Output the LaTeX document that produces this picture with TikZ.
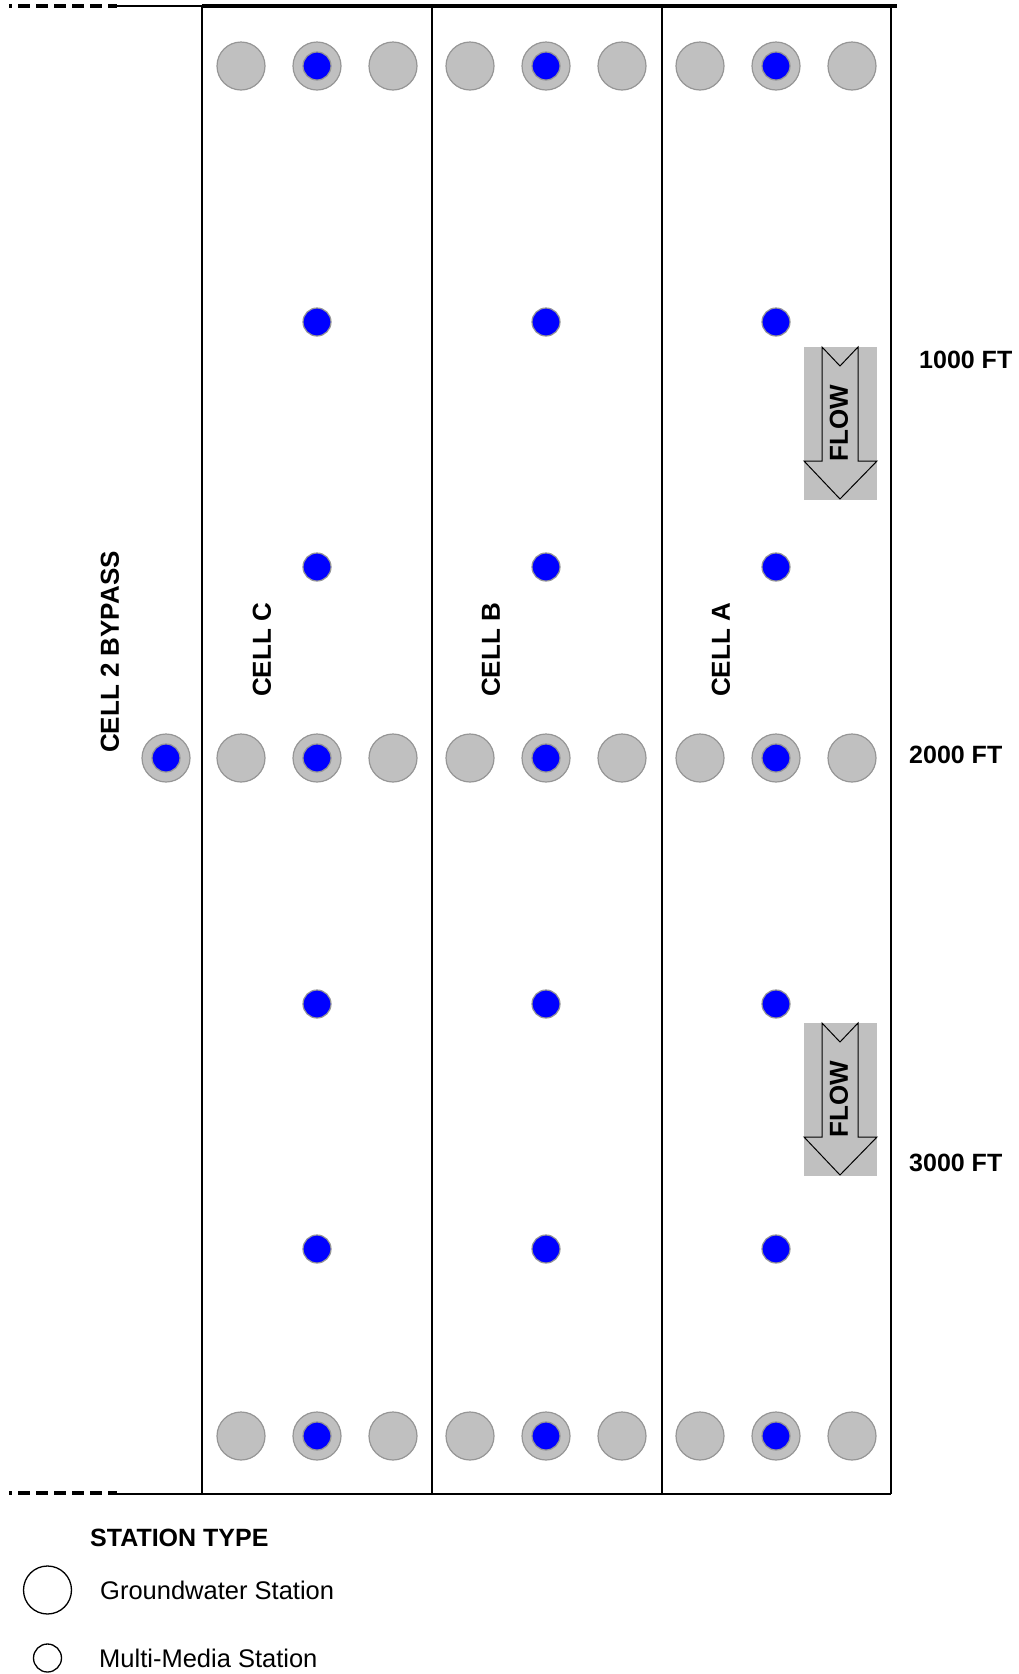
\documentclass[tikz,border=0pt]{standalone}
\usepackage{fontspec}
\setmainfont{Liberation Sans}
\usepackage{xcolor}
\usepackage{tikz}
\usetikzlibrary{positioning,calc}
\definecolor{gwgray}{HTML}{C0C0C0}
\definecolor{gwline}{HTML}{969696}
\definecolor{mmblue}{HTML}{0000FF}
\begin{document}
\begin{tikzpicture}[x=1pt, y=-1pt,
    gw/.style={circle, draw=gwline, fill=gwgray, line width=1.2pt, minimum size=48pt, inner sep=0pt},
    mm/.style={circle, draw=gwline, fill=mmblue, line width=1.2pt, minimum size=28pt, inner sep=0pt},
    legendgw/.style={circle, draw=black, line width=1.3pt, minimum size=48pt, inner sep=0pt},
    legendmm/.style={circle, draw=black, line width=1.3pt, minimum size=28pt, inner sep=0pt},
    celltext/.style={font=\fontsize{26}{30}\selectfont\bfseries, inner sep=0pt, rotate=90},
    fttext/.style={font=\fontsize{25}{30}\selectfont\bfseries, inner sep=0pt, anchor=west},
    legendtext/.style={font=\fontsize{25.5}{30}\selectfont, inner sep=0pt, anchor=west},
    flowbox/.style={fill=gwgray},
    flowarrow/.style={fill=gwgray, draw=black, line width=1pt, line join=miter},
    dashend/.style={line width=4pt, dash pattern=on 12pt off 6pt, dash phase=9pt}]

    \useasboundingbox (0,0) rectangle (1019,1674);

    \coordinate (tl) at (202,6);
    \coordinate (tr) at (891,6);
    \coordinate (bl) at (202,1494);
    \coordinate (br) at (891,1494);

    \draw[dashend] (9,6) -- (117,6);
    \draw[line width=2pt] (117,6) -- (tl);
    \draw[line width=4pt] (tl) -- (897,6);
    \draw[dashend] (9,1493) -- (117,1493);
    \draw[line width=2.6pt] (117,1494) -- (br);
    \draw[line width=2.6pt] (tr) -- (br);
    \foreach \lx in {202,432,662}
        \draw[line width=2.6pt] (\lx,6) -- (\lx,1494);

    \foreach \cell/\cx in {C/317,B/546,A/776} {
        \foreach \row/\ry in {top/66,mid/758,bot/1436} {
            \node[gw] (gwL-\cell-\row) at (\cx-76,\ry) {};
            \node[gw] (gwM-\cell-\row) at (\cx,\ry) {};
            \node[mm] (mmM-\cell-\row) at (gwM-\cell-\row) {};
            \node[gw] (gwR-\cell-\row) at (\cx+76,\ry) {};
        }
        \foreach \k/\ry in {1/322,2/567,3/1004,4/1249}
            \node[mm] (mm-\cell-\k) at (\cx,\ry) {};
        \node[celltext] (cell\cell) at (\cx-55,650) {CELL \cell};
    }

    \node[gw] (gw-bypass) at (166,758) {};
    \node[mm] (mm-bypass) at (gw-bypass) {};
    \node[celltext] (bypass) at (110,652) {CELL 2 BYPASS};

    \foreach \n/\fy in {1/347,2/1023} {
        \fill[flowbox] (804,\fy) rectangle (877,\fy+153);
        \draw[flowarrow] (822,\fy) -- (840,\fy+19) -- (858,\fy) -- (858,\fy+114)
            -- (877,\fy+114) -- (840,\fy+152) -- (804,\fy+114) -- (822,\fy+114) -- cycle;
        \node[celltext] (flow\n) at (839,\fy+76) {FLOW};
    }

    \node[fttext] (ft1000) at (919,360) {1000 FT};
    \node[fttext] (ft2000) at (909,755) {2000 FT};
    \node[fttext] (ft3000) at (909,1163) {3000 FT};

    \node[legendtext, font=\fontsize{25}{30}\selectfont\bfseries] (legendtitle) at (90,1538) {STATION TYPE};
    \node[legendgw] (legend-gw) at (47.5,1590) {};
    \node[legendtext] (legend-gw-text) at (100,1590) {Groundwater Station};
    \node[legendmm] (legend-mm) at (47.5,1658) {};
    \node[legendtext] (legend-mm-text) at (99,1658) {Multi-Media Station};
\end{tikzpicture}
\end{document}
